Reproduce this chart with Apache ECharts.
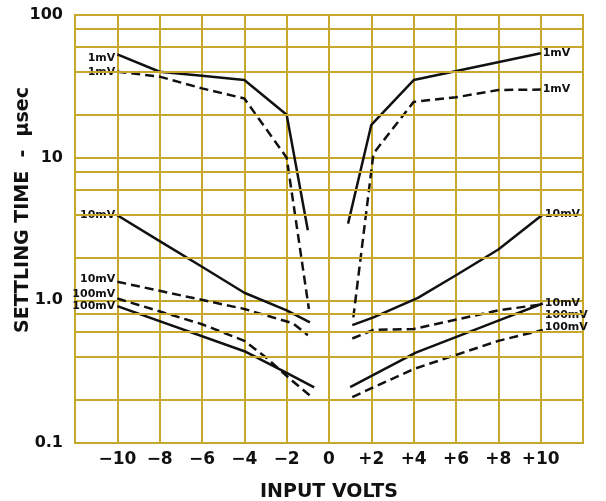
<!DOCTYPE html>
<html>
<head>
<meta charset="utf-8">
<script src="https://cdn.jsdelivr.net/npm/echarts@6/dist/echarts.min.js"></script>
<style>
  html, body { margin: 0; padding: 0; background: #fff; }
  #main { width: 606px; height: 501px; }
</style>
</head>
<body>
<div id="main"></div>
<script>
var myChart = echarts.init(document.getElementById('main'));

// curves: [input volts, settling time in usec]
var mv1SolidLeft = [[-10, 53], [-8, 40], [-6, 37.5], [-4, 35], [-2, 20], [-1, 3.1]];
var mv1DashLeft = [[-10, 40], [-8, 37], [-6, 30.6], [-4, 26], [-2, 10], [-0.95, 0.87]];
var mv10SolidLeft = [[-10, 3.95], [-8, 2.6], [-6, 1.72], [-4, 1.13], [-2, 0.85], [-0.9, 0.7]];
var mv10DashLeft = [[-10, 1.35], [-4, 0.87], [-1.7, 0.69], [-1, 0.57]];
var mv100DashLeft = [[-10, 1.03], [-6, 0.68], [-4, 0.52], [-3, 0.4], [-1.7, 0.27], [-0.9, 0.215]];
var mv100SolidLeft = [[-10, 0.91], [-4, 0.44], [-2, 0.31], [-0.7, 0.245]];

var mv1SolidRight = [[0.9, 3.45], [2, 17], [4, 35], [10, 54]];
var mv1DashRight = [[1.15, 0.76], [2.1, 10.7], [4, 24.6], [6, 26.5], [8, 29.8], [10, 30]];
var mv10SolidRight = [[1.1, 0.67], [2.1, 0.76], [4.2, 1.04], [6, 1.5], [8, 2.27], [10.1, 4.0]];
var mv10DashRight = [[1.1, 0.54], [2.1, 0.62], [4, 0.63], [8, 0.85], [10.1, 0.94]];
var mv100SolidRight = [[1, 0.246], [4.1, 0.43], [8, 0.72], [10.1, 0.95]];
var mv100DashRight = [[1.1, 0.21], [4, 0.33], [8, 0.52], [10.1, 0.62]];

var minorLines = [0.2, 0.4, 0.6, 0.8, 2, 4, 6, 8, 20, 40, 60, 80];

var gridColor = '#c6a82a';
var ink = '#111';
var dash = [9, 5];
var font = 'DejaVu Sans';

function curve(data, dashed, text, side, dy) {
    var last = data.length - 1;
    return {
        type: 'line',
        data: data,
        symbol: 'circle',
        symbolSize: 0.1,
        showSymbol: true,
        showAllSymbol: true,
        itemStyle: { color: ink },
        z: 3,
        lineStyle: { color: ink, width: 2.5, type: dashed ? dash : 'solid' },
        labelLayout: { hideOverlap: false, dy: dy || 0 },
        label: {
            show: true,
            position: side,
            distance: 2,
            color: ink,
            fontFamily: font,
            fontWeight: 'bold',
            fontSize: 11,
            formatter: function (p) {
                var idx = side === 'left' ? 0 : last;
                return p.dataIndex === idx ? text : '';
            }
        }
    };
}

var seriesData = [
    {
        type: 'line',
        data: [],
        z: 1,
        markLine: {
            silent: true,
            symbol: 'none',
            label: { show: false },
            lineStyle: { color: gridColor, width: 2, type: 'solid' },
            data: minorLines.map(function (v) { return { yAxis: v }; })
        }
    },
    curve(mv1SolidLeft, false, '1mV', 'left', 4),
    curve(mv1DashLeft, true, '1mV', 'left', 0),
    curve(mv10SolidLeft, false, '10mV', 'left', 0),
    curve(mv10DashLeft, true, '10mV', 'left', -3),
    curve(mv100DashLeft, true, '100mV', 'left', -4),
    curve(mv100SolidLeft, false, '100mV', 'left', 0),
    curve(mv1SolidRight, false, '1mV', 'right', 0),
    curve(mv1DashRight, true, '1mV', 'right', 0),
    curve(mv10SolidRight, false, '10mV', 'right', 0),
    curve(mv10DashRight, true, '10mV', 'right', -1),
    curve(mv100SolidRight, false, '100mV', 'right', 12),
    curve(mv100DashRight, true, '100mV', 'right', -3)
];

var option = {
    animation: false,
    backgroundColor: '#fff',
    tooltip: { show: false },
    grid: {
        left: 75,
        right: 23,
        top: 15,
        bottom: 58,
        outerBoundsMode: 'none',
        show: true,
        borderColor: gridColor,
        borderWidth: 2
    },
    xAxis: {
        type: 'value',
        min: -12,
        max: 12,
        interval: 2,
        name: 'INPUT VOLTS',
        nameLocation: 'middle',
        nameGap: 40,
        nameMoveOverlap: false,
        nameTextStyle: { color: ink, fontFamily: font, fontWeight: 'bold', fontSize: 19 },
        axisLine: { show: false },
        axisTick: { show: false },
        axisLabel: {
            color: ink,
            fontFamily: font,
            fontWeight: 'bold',
            fontSize: 17,
            margin: 8,
            formatter: function (v) {
                if (Math.abs(v) > 11) return '';
                if (v < 0) return '\u2212' + Math.abs(v);
                if (v > 0) return '+' + v;
                return '0';
            }
        },
        splitLine: { show: true, lineStyle: { color: gridColor, width: 2 } }
    },
    yAxis: {
        type: 'log',
        logBase: 10,
        min: 0.1,
        max: 100,
        name: 'SETTLING TIME  -  \u00b5sec',
        nameLocation: 'middle',
        nameGap: 42,
        nameRotate: 90,
        nameMoveOverlap: false,
        nameTextStyle: { color: ink, fontFamily: font, fontWeight: 'bold', fontSize: 19, padding: [0, 0, 0, 38] },
        axisLine: { show: false },
        axisTick: { show: false },
        axisLabel: {
            color: ink,
            fontFamily: font,
            fontWeight: 'bold',
            fontSize: 16,
            margin: 12,
            formatter: function (v) {
                if (v < 0.5) return '0.1';
                if (v < 5) return '1.0';
                if (v < 50) return '10';
                return '100';
            }
        },
        splitLine: { show: true, lineStyle: { color: gridColor, width: 2 } }
    },
    series: seriesData
};

myChart.setOption(option);
</script>
</body>
</html>
